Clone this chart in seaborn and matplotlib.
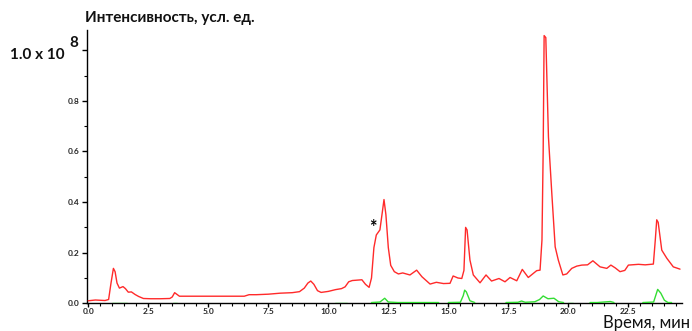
import numpy as np
import pandas as pd
import matplotlib
matplotlib.use("Agg")
import matplotlib.pyplot as plt
import seaborn as sns

# ---- data (time in min, intensity in units of 1e8) ----
red_t = [0.0, 0.3, 0.5, 0.7, 0.85, 0.95, 1.05, 1.12, 1.2, 1.3, 1.45, 1.55, 1.67, 1.8, 1.95,
         2.1, 2.3, 2.6, 3.0, 3.4, 3.5, 3.6, 3.7, 3.8, 4.5, 5.5, 6.5, 6.7, 7.0, 7.5, 8.0,
         8.5, 8.8, 9.0, 9.15, 9.27, 9.4, 9.55, 9.7, 10.0, 10.3, 10.55, 10.7, 10.85, 11.0,
         11.4, 11.55, 11.7, 11.8, 11.9, 12.0, 12.15, 12.25, 12.32, 12.4, 12.5, 12.6, 12.75,
         12.92, 13.1, 13.4, 13.68, 13.9, 14.24, 14.5, 14.8, 15.07, 15.2, 15.4, 15.56, 15.65,
         15.72, 15.78, 15.9, 16.04, 16.32, 16.57, 16.8, 17.11, 17.36, 17.57, 17.85, 18.08,
         18.33, 18.68, 18.82, 18.9, 18.95, 18.99, 19.06, 19.17, 19.31, 19.45, 19.58, 19.77,
         19.93, 20.14, 20.35, 20.56, 20.8, 21.02, 21.32, 21.6, 21.77, 21.95, 22.15, 22.35,
         22.5, 22.92, 23.2, 23.54, 23.62, 23.68, 23.74, 23.89, 24.1, 24.37, 24.65]
red_i = [0.010, 0.013, 0.012, 0.011, 0.015, 0.080, 0.138, 0.125, 0.080, 0.060, 0.066, 0.058,
         0.044, 0.045, 0.035, 0.027, 0.019, 0.018, 0.018, 0.019, 0.025, 0.042, 0.035, 0.028,
         0.028, 0.028, 0.028, 0.034, 0.034, 0.036, 0.040, 0.042, 0.046, 0.060, 0.080, 0.088,
         0.075, 0.050, 0.043, 0.047, 0.054, 0.058, 0.065, 0.085, 0.090, 0.093, 0.075, 0.063,
         0.100, 0.220, 0.270, 0.290, 0.360, 0.410, 0.350, 0.220, 0.150, 0.125, 0.116, 0.120,
         0.112, 0.131, 0.105, 0.076, 0.083, 0.078, 0.079, 0.108, 0.100, 0.098, 0.130, 0.300,
         0.290, 0.171, 0.112, 0.081, 0.112, 0.088, 0.098, 0.085, 0.102, 0.089, 0.134, 0.102,
         0.129, 0.131, 0.250, 0.600, 1.058, 1.050, 0.657, 0.434, 0.223, 0.171, 0.112, 0.116,
         0.138, 0.147, 0.151, 0.152, 0.168, 0.144, 0.138, 0.151, 0.140, 0.125, 0.130, 0.151,
         0.154, 0.152, 0.155, 0.250, 0.330, 0.320, 0.210, 0.178, 0.144, 0.135]

green_seg = [1, 1, 2, 2, 3, 3, 4, 4, 4, 4, 4, 4, 4, 5, 5, 5, 5, 5, 5, 5,
             6, 6, 6, 6, 6, 6, 6, 6, 6, 6, 6, 7, 7, 8, 8, 8, 8, 9, 9, 9, 9, 9, 9, 9]
green_t = [1.0, 1.6, 3.55, 3.7, 10.3, 10.8, 11.8, 12.15, 12.35, 12.5, 12.9, 13.4, 14.6,
           15.0, 15.5, 15.62, 15.68, 15.75, 15.9, 16.1,
           17.4, 17.9, 18.05, 18.2, 18.6, 18.8, 18.95, 19.15, 19.4, 19.6, 19.8,
           20.0, 20.2, 20.9, 21.2, 21.75, 21.9,
           23.1, 23.55, 23.72, 23.85, 24.0, 24.15, 24.3]
green_i = [0.003, 0.003, 0.003, 0.003, 0.003, 0.003, 0.003, 0.005, 0.020, 0.005, 0.003, 0.003, 0.003,
           0.003, 0.004, 0.030, 0.052, 0.045, 0.010, 0.003,
           0.003, 0.004, 0.009, 0.004, 0.006, 0.015, 0.029, 0.018, 0.020, 0.006, 0.003,
           0.003, 0.003, 0.003, 0.003, 0.007, 0.003,
           0.003, 0.005, 0.055, 0.040, 0.012, 0.003, 0.003]

x_major = [0.0, 2.5, 5.0, 7.5, 10.0, 12.5, 15.0, 17.5, 20.0, 22.5]
x_labels = ["0.0", "2.5", "5.0", "7.5", "10.0", "12.5", "15.0", "17.5", "20.0", "22.5"]
y_major = [0.0, 0.2, 0.4, 0.6, 0.8, 1.0]
y_labels = ["0.0", "0.2", "0.4", "0.6", "0.8", ""]

title_text = "Интенсивность, усл. ед."
xlabel_text = "Время, мин"
scale_text = "1.0 x 10"
scale_exp = "8"
mark_text = "*"

sns.set_theme(style="ticks")
plt.rcParams["font.family"] = ["Lato", "DejaVu Sans"]

red_df = pd.DataFrame({"t": red_t, "i": red_i})
green_df = pd.DataFrame({"t": green_t, "i": green_i, "seg": green_seg})

fig = plt.figure(figsize=(6.92, 3.31), dpi=100)
ax = fig.add_axes([87 / 692, 27.7 / 331, (681.7 - 87) / 692, (303.3 - 30) / 331])

sns.lineplot(data=green_df, x="t", y="i", units="seg", estimator=None,
             color="#33dd33", lw=1.0, ax=ax, zorder=3)
sns.lineplot(data=red_df, x="t", y="i", color="#ff2a2a", lw=1.0, ax=ax, zorder=4)

ax.set_xlim(-0.05, 24.72)
ax.set_ylim(0, 1.08)
ax.set_xticks(x_major)
ax.set_xticklabels(x_labels)
ax.set_xticks(np.arange(0, 24.75, 0.5), minor=True)
ax.set_yticks(y_major)
ax.set_yticklabels(y_labels)
ax.set_yticks([0.1, 0.3, 0.5, 0.7, 0.9], minor=True)
ax.tick_params(axis="both", which="major", length=3.5, width=1, color="black",
               labelsize=6, pad=2)
ax.tick_params(axis="x", which="major", length=3, pad=0.5)
ax.tick_params(axis="both", which="minor", length=2, width=0.8, color="black")
for lab in ax.get_xticklabels() + ax.get_yticklabels():
    lab.set_fontweight("bold")
ax.set_xlabel("")
ax.set_ylabel("")
sns.despine(ax=ax)
for s in ["left", "bottom"]:
    ax.spines[s].set_color("black")
    ax.spines[s].set_linewidth(1.0)

ax.text(11.85, 0.30, mark_text, fontsize=13, fontweight="bold", ha="center",
        va="center", color="black")

fig.text(85 / 692, 1 - 18 / 331, title_text, fontsize=11, fontweight="bold",
         ha="left", va="center", color="#111111")
fig.text(690 / 692, 1 - 328 / 331, xlabel_text, fontsize=12, ha="right",
         va="baseline", color="#111111")
fig.text(10 / 692, 1 - 55 / 331, scale_text, fontsize=11, fontweight="bold",
         ha="left", va="center", color="#111111")
fig.text(69 / 692, 1 - 43 / 331, scale_exp, fontsize=11, fontweight="bold",
         ha="left", va="center", color="#111111")

fig.savefig("out.png", dpi=100)
